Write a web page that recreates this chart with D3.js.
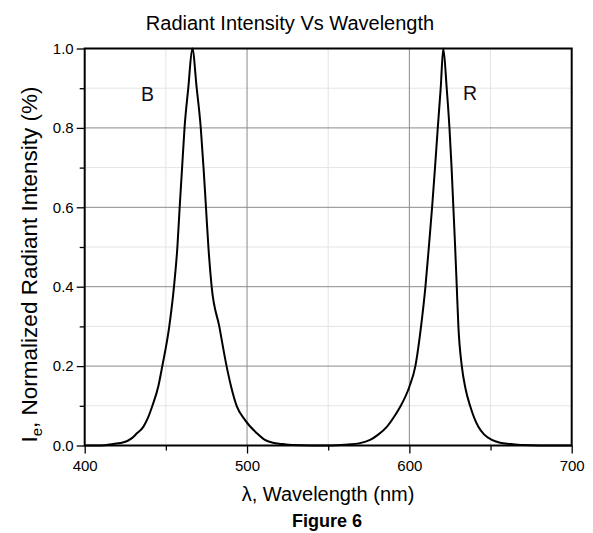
<!DOCTYPE html>
<html><head><meta charset="utf-8">
<script src="https://cdn.jsdelivr.net/npm/d3@7"></script>
<style>
body{margin:0;background:#fff;}
text{font-family:"Liberation Sans",Arial,sans-serif;fill:#000;}
</style></head>
<body><svg id="c" width="593" height="533"></svg>
<script>
const blueWl  = [400,410,417.6,424,428.9,432,436.1,439,441.7,445.4,447.8,452.1,455,457.1,458.5,460,461.5,463.8,466.3,469,471.5,473.2,474.7,476.2,478.2,482.9,487.4,490.1,493.6,498.8,506,511,516,521,528,540,548];
const blueVal = [0,0,0.004,0.008,0.018,0.03,0.047,0.07,0.1,0.15,0.2,0.3,0.4,0.5,0.6,0.7,0.8,0.9,1.0,0.9,0.8,0.7,0.6,0.5,0.4,0.3,0.2,0.15,0.1,0.064,0.031,0.014,0.007,0.004,0.001,0,0];
const redWl   = [548,560,569.6,575.8,581,586.1,591,594.7,600,603.7,607.2,609.9,612,614,615.8,617.5,619.3,620.9,623,624.7,626,627.1,628.2,629.2,630.2,632.3,634.5,637.4,642.5,646,650.8,656,662,670,680,700];
const redVal  = [0,0.002,0.006,0.014,0.028,0.047,0.075,0.1,0.148,0.2,0.3,0.4,0.5,0.6,0.7,0.8,0.9,1.0,0.9,0.8,0.7,0.6,0.5,0.4,0.3,0.2,0.145,0.1,0.047,0.028,0.014,0.007,0.004,0.001,0,0];
const xMajor = [400,500,600,700];
const xMinor = [450,550,650];
const yMajor = [0,0.2,0.4,0.6,0.8,1.0];
const yMinor = [0.1,0.3,0.5,0.7,0.9];

const svg = d3.select("#c");
const L=84.7,R=571.7,T=48.5,B=445.5;
const x = d3.scaleLinear().domain([400,700]).range([L,R]);
const y = d3.scaleLinear().domain([0,1]).range([B,T]);

// minor grid
svg.append("g").selectAll("line").data(xMinor).join("line")
  .attr("x1",d=>x(d)).attr("x2",d=>x(d)).attr("y1",T).attr("y2",B)
  .attr("stroke","#e4e4e4").attr("stroke-width",1);
svg.append("g").selectAll("line").data(yMinor).join("line")
  .attr("y1",d=>y(d)).attr("y2",d=>y(d)).attr("x1",L).attr("x2",R)
  .attr("stroke","#e4e4e4").attr("stroke-width",1);
// major grid
svg.append("g").selectAll("line").data(xMajor.slice(1,-1)).join("line")
  .attr("x1",d=>x(d)).attr("x2",d=>x(d)).attr("y1",T).attr("y2",B)
  .attr("stroke","#8a8a8a").attr("stroke-width",1);
svg.append("g").selectAll("line").data(yMajor.slice(1,-1)).join("line")
  .attr("y1",d=>y(d)).attr("y2",d=>y(d)).attr("x1",L).attr("x2",R)
  .attr("stroke","#8a8a8a").attr("stroke-width",1);

// axes
svg.append("g").attr("transform",`translate(0,${B})`)
  .call(d3.axisBottom(x).tickValues(xMajor).tickFormat(d3.format("d")).tickSize(8).tickPadding(7));
svg.append("g").attr("transform",`translate(0,${B})`)
  .call(d3.axisBottom(x).tickValues(xMinor).tickFormat("").tickSize(5));
svg.append("g").attr("transform",`translate(${L},0)`)
  .call(d3.axisLeft(y).tickValues(yMajor).tickFormat(d3.format(".1f")).tickSize(8).tickPadding(3));
svg.append("g").attr("transform",`translate(${L},0)`)
  .call(d3.axisLeft(y).tickValues(yMinor).tickFormat("").tickSize(5));
svg.selectAll(".tick text").attr("font-size",15).attr("font-family","Liberation Sans, Arial, sans-serif").attr("fill","#000");
svg.selectAll(".tick line").attr("stroke","#000").attr("stroke-width",1.3);
svg.selectAll(".domain").remove();

// frame
svg.append("rect").attr("x",L).attr("y",T).attr("width",R-L).attr("height",B-T)
  .attr("fill","none").attr("stroke","#000").attr("stroke-width",2);

// curves
const line = d3.line().x(d=>x(d[0])).y(d=>y(d[1])).curve(d3.curveMonotoneX);
svg.append("path").datum(blueWl.map((w,i)=>[w,blueVal[i]])).attr("d",line)
  .attr("fill","none").attr("stroke","#000").attr("stroke-width",2);
svg.append("path").datum(redWl.map((w,i)=>[w,redVal[i]])).attr("d",line)
  .attr("fill","none").attr("stroke","#000").attr("stroke-width",2);

// labels
svg.append("text").attr("x",141).attr("y",100.7).attr("font-size",19.5).style("fill","#0d0d1a").text("B");
svg.append("text").attr("x",463).attr("y",99.5).attr("font-size",19.5).style("fill","#1a0a0a").text("R");

svg.append("text").attr("x",290).attr("y",29.5).attr("text-anchor","middle").attr("font-size",20).text("Radiant Intensity Vs Wavelength");
svg.append("text").attr("x",328).attr("y",501).attr("text-anchor","middle").attr("font-size",20).text("λ, Wavelength (nm)");
svg.append("text").attr("x",327).attr("y",527).attr("text-anchor","middle").attr("font-size",18).attr("font-weight","bold").text("Figure 6");

const yl = svg.append("text").attr("transform","translate(37,264.5) rotate(-90)").attr("text-anchor","middle").attr("font-size",22.5);
yl.append("tspan").text("I");
yl.append("tspan").attr("font-size",15).attr("dy",5).text("e");
yl.append("tspan").attr("dy",-5).text(", Normalized Radiant Intensity (%)");
</script></body></html>
